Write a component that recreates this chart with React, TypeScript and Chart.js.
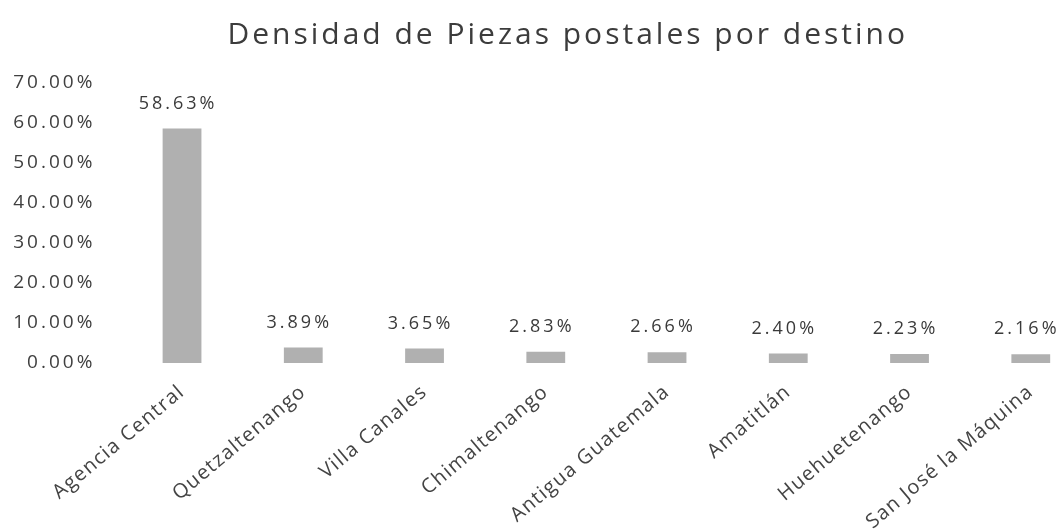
import React, { useEffect, useRef } from "react";
import { Chart, registerables } from "chart.js";

Chart.register(...registerables);

const categories = [
  "Agencia Central",
  "Quetzaltenango",
  "Villa Canales",
  "Chimaltenango",
  "Antigua Guatemala",
  "Amatitlán",
  "Huehuetenango",
  "San José la Máquina",
];
const densityValues = [58.63, 3.89, 3.65, 2.83, 2.66, 2.4, 2.23, 2.16];
const yTickMin = 0;
const yTickMax = 70;
const yTickStep = 10;
const chartTitle = "Densidad de Piezas postales por destino";

const FONT = "'Open Sans', 'DejaVu Sans', sans-serif";
const SPACING = "3px";
const X_SPACING = "1.3px";

const spacingPlugin = {
  id: "letterSpacing",
  beforeUpdate(chart: any) {
    chart.ctx.letterSpacing = SPACING;
  },
  beforeLayout(chart: any) {
    chart.ctx.letterSpacing = SPACING;
  },
  beforeDraw(chart: any) {
    chart.ctx.letterSpacing = SPACING;
  },
  resize(chart: any) {
    chart.ctx.letterSpacing = SPACING;
  },
};

const valueLabelPlugin = {
  id: "valueLabels",
  afterDatasetsDraw(chart: any) {
    const ctx = chart.ctx;
    const meta = chart.getDatasetMeta(0);
    ctx.save();
    ctx.letterSpacing = SPACING;
    ctx.font = `18px ${FONT}`;
    ctx.fillStyle = "#3a3a3a";
    ctx.textAlign = "center";
    ctx.textBaseline = "middle";
    meta.data.forEach((bar: any, i: number) => {
      const v = chart.data.datasets[0].data[i] as number;
      ctx.fillText(v.toFixed(2) + "%", bar.x - 4, bar.y - 25);
    });
    ctx.restore();
  },
};

export default function App() {
  const ref = useRef<HTMLCanvasElement | null>(null);
  useEffect(() => {
    if (!ref.current) return;
    const chart = new Chart(ref.current, {
      type: "bar",
      data: {
        labels: categories,
        datasets: [
          {
            data: densityValues,
            backgroundColor: "#b0b0b0",
            borderWidth: 0,
            categoryPercentage: 1,
            barPercentage: 0.32,
          },
        ],
      },
      plugins: [spacingPlugin, valueLabelPlugin],
      options: {
        responsive: false,
        animation: false,
        devicePixelRatio: 1,
        layout: { padding: { left: 36, right: 6.6, top: 0, bottom: 0 } },
        plugins: {
          legend: { display: false },
          tooltip: { enabled: false },
          title: {
            display: true,
            text: chartTitle,
            color: "#3c3c3c",
            font: { family: FONT, size: 30, weight: "normal", lineHeight: 1.2 },
            padding: { top: 9, bottom: 30 },
          },
        },
        scales: {
          x: {
            grid: { display: false, drawTicks: false },
            border: { display: false },
            ticks: {
              autoSkip: false,
              minRotation: 40,
              maxRotation: 40,
              padding: 17,
              color: "#444444",
              font: { family: FONT, size: 20 },
            },
            afterFit(scale: any) {
              scale.height = 166;
              if (!scale._spacingWrapped) {
                const orig = scale.drawLabels;
                scale.drawLabels = function (area: any) {
                  const ctx = this.ctx;
                  const prev = ctx.letterSpacing;
                  ctx.letterSpacing = X_SPACING;
                  orig.call(this, area);
                  ctx.letterSpacing = prev;
                };
                scale._spacingWrapped = true;
              }
            },
          },
          y: {
            min: yTickMin,
            max: yTickMax,
            grid: { display: false, drawTicks: false },
            border: { display: false },
            ticks: {
              stepSize: yTickStep,
              padding: 26,
              color: "#404040",
              font: { family: FONT, size: 19 },
              callback: (v: any) => Number(v).toFixed(2) + "%",
            },
            afterFit(scale: any) {
              scale.width = 77.4;
              // let tick labels extend into the left padding area
              scale._computeLabelArea = () => undefined;
            },
          },
        },
      },
    });
    return () => chart.destroy();
  }, []);
  return (
    <div style={{ width: 1056, height: 521, overflow: "hidden" }}>
      <canvas ref={ref} width={1090} height={521} style={{ display: "block" }} />
    </div>
  );
}
